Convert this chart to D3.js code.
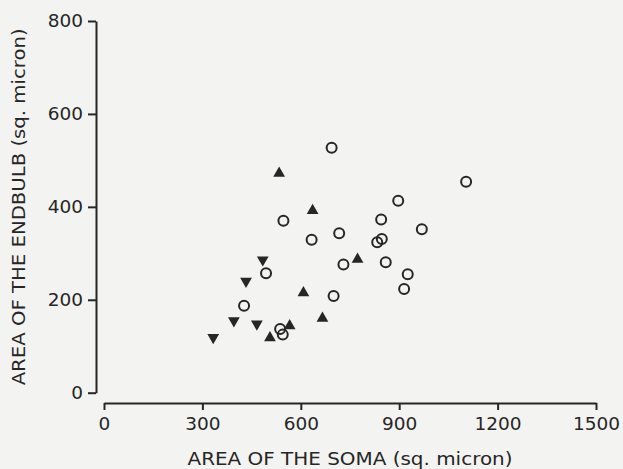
<!DOCTYPE html>
<html>
<head>
<meta charset="utf-8">
<script src="https://cdn.jsdelivr.net/npm/d3@7"></script>
<style>
  body { margin: 0; background: #f3f3f1; }
  svg { display: block; }
  .axis text { font-family: "DejaVu Sans", sans-serif; font-size: 18.5px; fill: #262626; }
  .axis path, .axis line { stroke: #262626; stroke-width: 2px; }
  .title { font-family: "DejaVu Sans", sans-serif; font-size: 18px; fill: #262626; }
</style>
</head>
<body>
<script>
// open circles
const circleX = [694, 1104, 897, 547, 845, 969, 717, 633, 847, 833, 730, 859, 494, 926, 915, 700, 427, 537, 545];
const circleY = [527, 454, 413, 370, 373, 352, 343, 329, 331, 324, 276, 281, 257, 255, 223, 208, 187, 137, 125];
// filled triangles, point up
const upX = [534, 636, 773, 608, 666, 566, 506];
const upY = [472, 392, 287, 215, 160, 144, 118];
// filled triangles, point down
const downX = [484, 433, 396, 466, 333];
const downY = [286, 240, 155, 148, 119];

const xTicks = [0, 300, 600, 900, 1200, 1500];
const yTicks = [0, 200, 400, 600, 800];

const width = 623, height = 469;
const ink = "#262626";

const svg = d3.select("body").append("svg")
  .attr("width", width)
  .attr("height", height);

const x = d3.scaleLinear().domain([0, 1500]).range([104, 596]);
const y = d3.scaleLinear().domain([0, 800]).range([392.7, 21]);

// x axis sits a bit below the y axis, as in the original figure
svg.append("g")
  .attr("class", "axis")
  .attr("transform", "translate(0,403)")
  .call(d3.axisBottom(x).tickValues(xTicks).tickFormat(d3.format("d")).tickSize(7).tickSizeOuter(0).tickPadding(7));

svg.append("g")
  .attr("class", "axis")
  .attr("transform", "translate(96,0)")
  .call(d3.axisLeft(y).tickValues(yTicks).tickFormat(d3.format("d")).tickSize(8).tickSizeOuter(0).tickPadding(5));

svg.append("text")
  .attr("class", "title")
  .attr("x", (x(0) + x(1500)) / 2)
  .attr("y", 465)
  .attr("text-anchor", "middle")
  .attr("textLength", 325)
  .attr("lengthAdjust", "spacingAndGlyphs")
  .text("AREA OF THE SOMA (sq. micron)");

svg.append("text")
  .attr("class", "title")
  .attr("transform", `translate(25,${(y(0) + y(800)) / 2}) rotate(-90)`)
  .attr("text-anchor", "middle")
  .attr("textLength", 357)
  .attr("lengthAdjust", "spacingAndGlyphs")
  .text("AREA OF THE ENDBULB (sq. micron)");

const circles = circleX.map((d, i) => ({ x: d, y: circleY[i] }));
const ups = upX.map((d, i) => ({ x: d, y: upY[i] }));
const downs = downX.map((d, i) => ({ x: d, y: downY[i] }));

svg.append("g").selectAll("circle")
  .data(circles)
  .enter().append("circle")
  .attr("cx", d => x(d.x))
  .attr("cy", d => y(d.y))
  .attr("r", 5)
  .attr("fill", "none")
  .attr("stroke", ink)
  .attr("stroke-width", 2);

const tri = d3.symbol().type(d3.symbolTriangle).size(60);

svg.append("g").selectAll("path")
  .data(ups)
  .enter().append("path")
  .attr("d", tri)
  .attr("transform", d => `translate(${x(d.x)},${y(d.y)})`)
  .attr("fill", ink);

svg.append("g").selectAll("path")
  .data(downs)
  .enter().append("path")
  .attr("d", tri)
  .attr("transform", d => `translate(${x(d.x)},${y(d.y)}) rotate(180)`)
  .attr("fill", ink);
</script>
</body>
</html>
